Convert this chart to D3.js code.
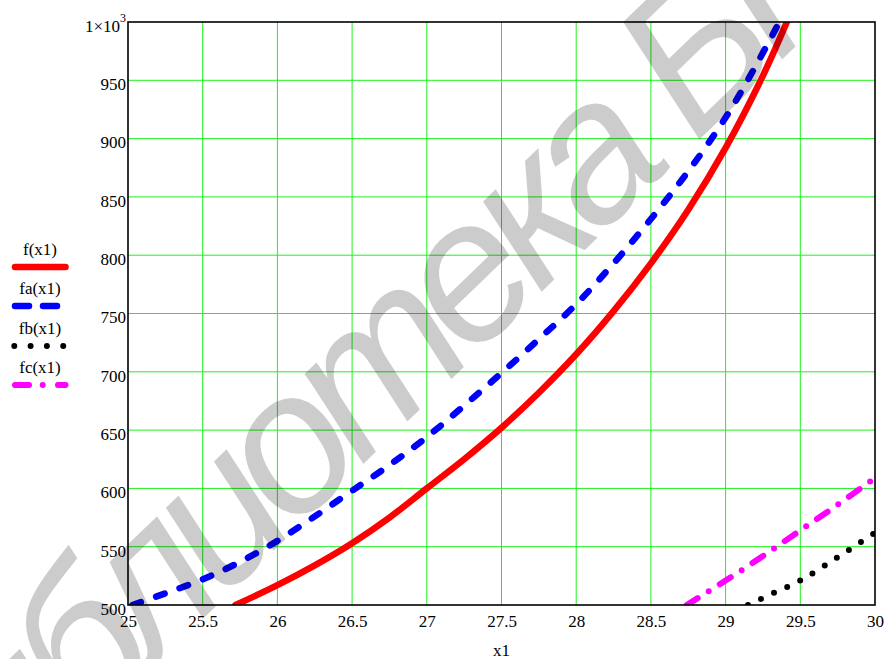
<!DOCTYPE html>
<html>
<head>
<meta charset="utf-8">
<script src="https://cdn.jsdelivr.net/npm/d3@7"></script>
<style>
    body { margin: 0; background: #fff; }
    svg text { font-family: "Liberation Serif", "Times New Roman", serif; }
</style>
</head>
<body>
<svg id="chart" width="890" height="659"></svg>
<script>
// values
const fX = [25.72, 26, 26.25, 26.5, 26.75, 27, 27.25, 27.5, 27.75, 28, 28.25, 28.5, 28.75, 29, 29.25, 29.41];
const fY = [500, 517, 534, 553, 575, 600, 625, 652, 682, 715, 752, 793, 839, 892, 954, 1000];

const faX = [25.03, 25.25, 25.5, 25.75, 26, 26.25, 26.5, 26.75, 27, 27.25, 27.5, 27.75, 28, 28.25, 28.5, 28.75, 29, 29.2, 29.36];
const faY = [500, 510, 522, 537, 555, 576, 598, 620, 644, 671, 699, 728, 758, 793, 831, 872, 918, 962, 1000];

const fbX = [29.15, 29.3, 29.5, 29.75, 30];
const fbY = [500, 509, 521, 541, 562];

const fcX = [28.74, 29, 29.25, 29.5, 29.75, 30];
const fcY = [500, 521, 542, 564, 586, 609];

const xTicks = [25, 25.5, 26, 26.5, 27, 27.5, 28, 28.5, 29, 29.5, 30];
const yTicks = [500, 550, 600, 650, 700, 750, 800, 850, 900, 950, 1000];
const legendNames = ["f(x1)", "fa(x1)", "fb(x1)", "fc(x1)"];
const watermarkText = "Библиотека БГУИР";

const svg = d3.select("#chart");
const plot = {left: 128, right: 875, top: 22, bottom: 605};

const x = d3.scaleLinear().domain([25, 30]).range([plot.left, plot.right]);
const y = d3.scaleLinear().domain([500, 1000]).range([plot.bottom, plot.top]);

// grid
const grid = svg.append("g").attr("stroke", "#1ef01e").attr("stroke-width", 1);
grid.selectAll(".gx")
    .data(xTicks.slice(1, -1))
    .join("line")
    .attr("x1", d => x(d)).attr("x2", d => x(d))
    .attr("y1", plot.top).attr("y2", plot.bottom);
grid.selectAll(".gy")
    .data(yTicks.slice(1, -1))
    .join("line")
    .attr("x1", plot.left).attr("x2", plot.right)
    .attr("y1", d => y(d)).attr("y2", d => y(d));

// series
const series = [
    {xs: fX, ys: fY, color: "#ff0000", width: 6.5, dash: null, legDash: null},
    {xs: faX, ys: faY, color: "#0000ff", width: 6.5, dash: "9,16", legDash: "14,14"},
    {xs: fbX, ys: fbY, color: "#000000", width: 6, dash: "0,14.4", legDash: "0,16.3"},
    {xs: fcX, ys: fcY, color: "#ff00ff", width: 6, dash: "13,13,0,13", legDash: "14,13.7,0,15.3"}
];

svg.append("clipPath").attr("id", "clip")
    .append("rect")
    .attr("x", plot.left).attr("y", plot.top)
    .attr("width", plot.right - plot.left).attr("height", plot.bottom - plot.top);

const line = d3.line()
    .x(d => x(d[0]))
    .y(d => y(d[1]))
    .curve(d3.curveCatmullRom.alpha(0.5));

svg.append("g")
    .attr("clip-path", "url(#clip)")
    .selectAll("path")
    .data(series)
    .join("path")
    .attr("d", s => line(d3.zip(s.xs, s.ys)))
    .attr("fill", "none")
    .attr("stroke", s => s.color)
    .attr("stroke-width", s => s.width)
    .attr("stroke-linecap", "round")
    .attr("stroke-linejoin", "round")
    .attr("stroke-dasharray", s => s.dash);

// frame
svg.append("rect")
    .attr("x", plot.left).attr("y", plot.top)
    .attr("width", plot.right - plot.left).attr("height", plot.bottom - plot.top)
    .attr("fill", "none").attr("stroke", "#000").attr("stroke-width", 1.6);

// axes
const yAxis = svg.append("g")
    .attr("transform", `translate(${plot.left},0)`)
    .call(d3.axisLeft(y).tickValues(yTicks).tickSize(0).tickPadding(2));
const xAxis = svg.append("g")
    .attr("transform", `translate(0,${plot.bottom})`)
    .call(d3.axisBottom(x).tickValues(xTicks).tickSize(0).tickPadding(10).tickFormat(d3.format("")));
[yAxis, xAxis].forEach(a => {
    a.select(".domain").remove();
    a.selectAll("text")
        .attr("font-size", 17)
        .attr("fill", "#000");
});
yAxis.selectAll("text").attr("dy", "0.55em");
yAxis.selectAll("text").filter(d => d === 1000)
    .text("1×10")
    .append("tspan")
    .attr("dy", -10)
    .attr("font-size", 12)
    .text("3");

svg.append("text")
    .attr("x", (plot.left + plot.right) / 2)
    .attr("y", 656)
    .attr("text-anchor", "middle")
    .attr("font-size", 17)
    .text("x1");

// legend
const legY = [255, 294, 334, 373];
const leg = svg.append("g");
legendNames.forEach((name, i) => {
    const s = series[i];
    leg.append("text")
        .attr("x", 40).attr("y", legY[i])
        .attr("text-anchor", "middle")
        .attr("font-size", 17)
        .text(name);
    leg.append("line")
        .attr("x1", s.legDash && s.legDash.startsWith("0") ? 14.3 : 15)
        .attr("x2", 65.5)
        .attr("y1", legY[i] + 12).attr("y2", legY[i] + 12)
        .attr("stroke", s.color)
        .attr("stroke-width", s.width)
        .attr("stroke-linecap", "round")
        .attr("stroke-dasharray", s.legDash);
});

// watermark on top
const wmSize = 200;
const wm = svg.append("text")
    .style("font-family", "'Liberation Sans', Arial, sans-serif")
    .style("font-style", "italic")
    .style("letter-spacing", "-15px")
    .attr("font-size", wmSize)
    .attr("fill", "#000")
    .attr("fill-opacity", 0.2)
    .text(watermarkText);
const p0 = wm.node().getStartPositionOfChar(9);
const p1 = wm.node().getEndPositionOfChar(9);
const mx = (p0.x + p1.x) / 2, my = p0.y - wmSize * 0.26;
wm.attr("transform", `translate(595,168) rotate(-44) translate(${-mx},${-my})`);
</script>
</body>
</html>
